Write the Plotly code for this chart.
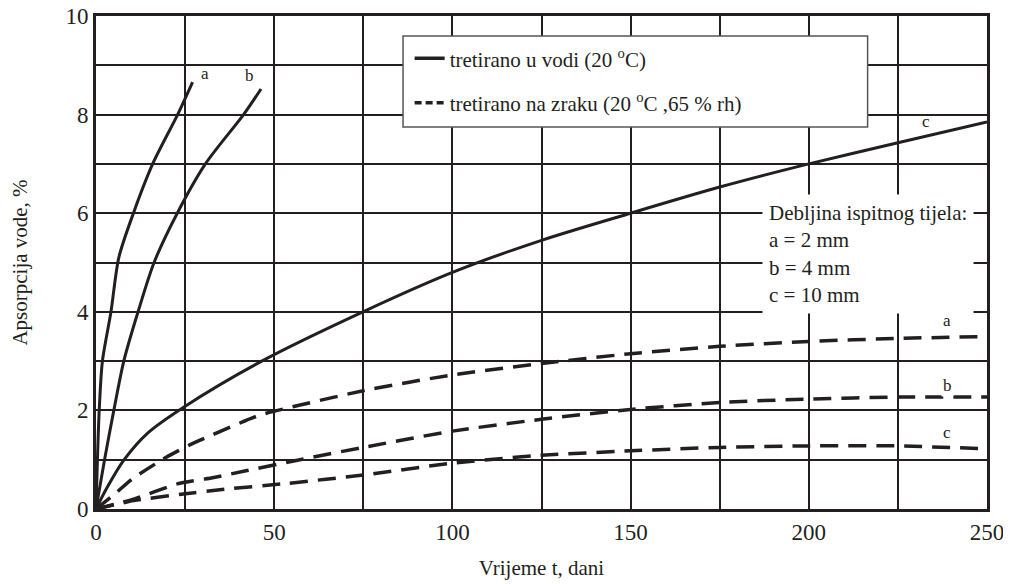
import plotly.graph_objects as go

# Apsorpcija vode (%) vs vrijeme (dani)
# tretirano u vodi (20 oC) - solid curves
voda_a_x = [0, 0.4, 0.9, 1.8, 4.2, 6.4, 10.5, 15.9, 22.9, 27.1]
voda_a_y = [0, 1, 2, 3, 4, 5.1, 6, 7, 8, 8.66]
voda_b_x = [0, 2.4, 5.0, 7.8, 11.8, 16.3, 22.8, 30.7, 41.4, 46.3]
voda_b_y = [0, 1, 2, 3, 4, 5, 6, 7, 8, 8.52]
voda_c_x = [0, 3, 7.9, 14.5, 24.7, 46.5, 75.5, 100, 125, 150, 175, 200, 225, 250]
voda_c_y = [0, 0.42, 1, 1.54, 2.07, 3.0, 4.02, 4.8, 5.45, 6.0, 6.53, 7.0, 7.43, 7.85]

# tretirano na zraku (20 oC, 65 % rh) - dashed curves
zrak_a_x = [0, 5.2, 10, 19.7, 26.9, 45.4, 50.4, 75, 100, 125, 150, 175, 200, 225, 250]
zrak_a_y = [0, 0.3, 0.6, 1.05, 1.32, 1.89, 1.99, 2.4, 2.72, 2.95, 3.15, 3.3, 3.4, 3.46, 3.5]
zrak_b_x = [0, 10.6, 22.8, 33.1, 42.4, 53.7, 75, 100, 125, 150, 175, 200, 225, 250]
zrak_b_y = [0, 0.2, 0.51, 0.64, 0.78, 0.95, 1.25, 1.58, 1.82, 2.02, 2.16, 2.23, 2.27, 2.27]
zrak_c_x = [0, 10.6, 23.9, 36, 53.8, 75, 100, 125, 150, 175, 200, 225, 250]
zrak_c_y = [0, 0.17, 0.3, 0.4, 0.52, 0.69, 0.93, 1.09, 1.18, 1.25, 1.28, 1.28, 1.22]

# curve labels: (text, x, y)
curve_labels = [
    ("a", 30.6, 8.84), ("b", 43.2, 8.8), ("c", 233, 7.86),
    ("a", 238.7, 3.83), ("b", 239, 2.5), ("c", 238.7, 1.56),
]
legend_names = ["tretirano u vodi (20 <sup>o</sup>C)",
                "tretirano na zraku (20 <sup>o</sup>C ,65 % rh)"]
note_lines = ["Debljina ispitnog tijela:", "a = 2 mm", "b = 4 mm", "c = 10 mm"]

INK = "#231f20"
FONT = "Liberation Serif, Times New Roman, Times, serif"

fig = go.Figure()
for x, y in [(voda_a_x, voda_a_y), (voda_b_x, voda_b_y), (voda_c_x, voda_c_y)]:
    fig.add_trace(go.Scatter(x=x, y=y, mode="lines", showlegend=False, hoverinfo="skip",
                             line=dict(color=INK, width=3, shape="spline", smoothing=0.8)))
for x, y in [(zrak_a_x, zrak_a_y), (zrak_b_x, zrak_b_y), (zrak_c_x, zrak_c_y)]:
    fig.add_trace(go.Scatter(x=x, y=y, mode="lines", showlegend=False, hoverinfo="skip",
                             line=dict(color=INK, width=3.5, dash="18px,10px",
                                       shape="spline", smoothing=0.6)))

# legend-only entries
fig.add_trace(go.Scatter(x=[None], y=[None], mode="lines", name=legend_names[0],
                         legendgroup="voda", line=dict(color=INK, width=3.5)))
fig.add_trace(go.Scatter(x=[None], y=[None], mode="lines", name=legend_names[1],
                         legendgroup="zrak", line=dict(color=INK, width=3.5, dash="7px,4px")))

for txt, x, y in curve_labels:
    fig.add_annotation(x=x, y=y, text=txt, showarrow=False,
                       font=dict(family=FONT, size=17, color=INK),
                       bgcolor="white" if txt == "b" and y < 5 else None)

fig.add_annotation(xref="paper", yref="paper", x=0.748, y=0.638, xanchor="left", yanchor="top",
                   text="<br>".join(note_lines), align="left", showarrow=False,
                   bgcolor="white", borderpad=6,
                   font=dict(family=FONT, size=21, color=INK))

# legend frame
fig.add_shape(type="rect", xref="paper", yref="paper", x0=0.3446, x1=0.866, y0=0.7748, y1=0.9594,
              fillcolor="white", line=dict(color="#555555", width=1.5), layer="above")

# the page body adds an 8 px offset, so the figure is 8 px smaller and shifted
fig.update_layout(
    width=1003, height=576,
    margin=dict(l=88, r=24, t=8, b=75),
    paper_bgcolor="white", plot_bgcolor="white",
    font=dict(family=FONT, color=INK),
    legend=dict(x=0.352, y=0.955, xanchor="left", yanchor="top", bgcolor="rgba(0,0,0,0)",
                font=dict(family=FONT, size=21, color=INK), tracegroupgap=14),
    xaxis=dict(range=[0, 250], tickvals=[0, 50, 100, 150, 200, 250], ticks="", automargin=False,
               ticklabeloverflow="allow",
               showgrid=True, gridcolor=INK, gridwidth=1.5,
               minor=dict(dtick=25, showgrid=True, gridcolor=INK, gridwidth=1.5),
               showline=True, linecolor=INK, linewidth=3, mirror=True, zeroline=False,
               tickfont=dict(family=FONT, size=23, color=INK),
               title=dict(text="Vrijeme t, dani", font=dict(family=FONT, size=21, color=INK),
                          standoff=17)),
    yaxis=dict(range=[0, 10], tickvals=[0, 2, 4, 6, 8, 10], ticks="", automargin=False,
               ticklabeloverflow="allow",
               showgrid=True, gridcolor=INK, gridwidth=1.5,
               minor=dict(dtick=1, showgrid=True, gridcolor=INK, gridwidth=1.5),
               showline=True, linecolor=INK, linewidth=3, mirror=True, zeroline=False,
               tickfont=dict(family=FONT, size=23, color=INK),
               title=dict(text="Apsorpcija vode, %", font=dict(family=FONT, size=21, color=INK),
                          standoff=43)),
)

fig.write_html("out.html")
